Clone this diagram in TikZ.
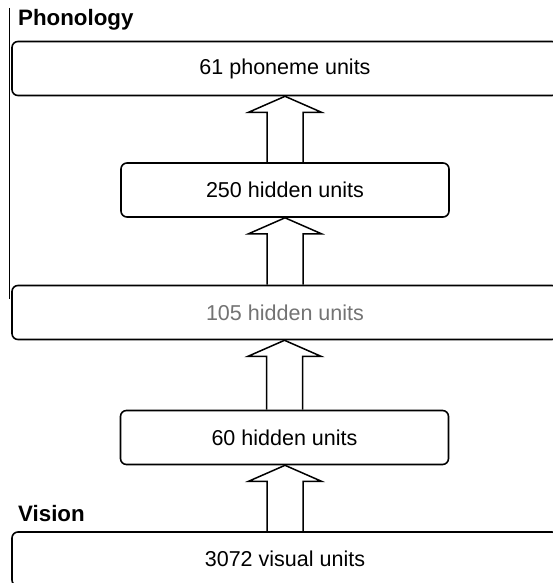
\documentclass[tikz,border=0pt]{standalone}
\usepackage{fontspec}
\setmainfont{Liberation Sans}
\usetikzlibrary{positioning}
\usetikzlibrary{calc}

\begin{document}
\begin{tikzpicture}
    [x=1bp, y=-1bp,
    layer/.style={draw, line width=1.6bp, rounded corners=6bp, minimum height=54bp, inner sep=0pt, font=\fontsize{21.6}{25}\selectfont},
    wide/.style={layer, minimum width=546bp},
    narrow/.style={layer, minimum width=328bp},
    tag/.style={anchor=base west, inner sep=0pt, font=\fontsize{22.4}{26}\selectfont\bfseries},
    flow/.style={draw, line width=1.5bp, line join=miter}]
     \useasboundingbox (0,0) rectangle (553,583);
     \clip (0,0) rectangle (553,583);
     %\draw[step=50,gray,very thin] (0,0) grid (553,583);
     \draw[line width=0.9bp] (9,8) -- (9,299);
     \node[tag] (phon) at (18, 26)        {Phonology};
     \node[tag] (vis)  at (18, 521)       {Vision};
     \node[wide]   (out)  at (285, 68.5)  {61 phoneme units};
     \node[narrow] (h250) at (285, 190)   {250 hidden units};
     \node[wide, fill=white, text=black!55] (h105) at (285, 312.5) {105 hidden units};
     \node[narrow] (h60)  at (284.5, 437.5) {60 hidden units};
     \node[wide]   (in)   at (285, 559)   {3072 visual units};
     % hollow block arrows, lower box to upper box
     \foreach \lo/\up in {in/h60, h60/h105, h105/h250, h250/out}
       \draw[flow] ($(\lo.north)+(-18,0)$) -- ($(\lo.north |- \up.south)+(-18,16)$)
         -- ++(-18.5,0) -- (\lo.north |- \up.south) -- ++(36.5,16)
         -- ++(-18.5,0) -- ($(\lo.north)+(18,0)$);
\end{tikzpicture}
\end{document}
